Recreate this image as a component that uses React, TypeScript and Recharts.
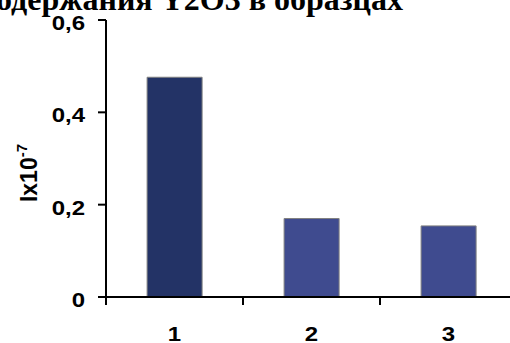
import React from 'react';
import { BarChart, Bar, XAxis, YAxis, Cell } from 'recharts';

const categories = ['1', '2', '3'];
const values = [0.476, 0.17, 0.154];
const barColors = ['#233366', '#3f4b8f', '#3f4b8f'];
const yTicks = [0, 0.2, 0.4, 0.6];
const titleText = 'содержания Y2O3 в образцах';
const yLabelMain = 'Ix10';
const yLabelSup = '-7';

const data = categories.map((c, i) => ({ name: c, value: values[i] }));

const CHART_W = 517;
const CHART_H = 343;
const MARGIN = { top: 20, right: 0, bottom: 0, left: 0 };
const Y_W = 106;
const FONT = 'Liberation Sans, Arial, sans-serif';

const band = (CHART_W - MARGIN.left - MARGIN.right - Y_W) / categories.length;

const XTick = (props: any) => {
  const { x, y, payload } = props;
  const bx = x - band / 2;
  return (
    <g>
      <line x1={bx} y1={y} x2={bx} y2={y + 8} stroke="#000" strokeWidth={2} />
      <text transform={`translate(${x},${y + 44}) scale(1.2,1)`} textAnchor="middle" fontFamily={FONT} fontWeight="bold" fontSize={20} fill="#000">
        {payload.value}
      </text>
    </g>
  );
};

const YTick = (props: any) => {
  const { x, y, payload } = props;
  return (
    <text transform={`translate(${x},${y + 10}) scale(1.2,1)`} textAnchor="end" fontFamily={FONT} fontWeight="bold" fontSize={20} fill="#000">
      {String(payload.value).replace('.', ',')}
    </text>
  );
};

const YLabel = (props: any) => {
  const cx = 37;
  const cy = 173;
  return (
    <text x={cx} y={cy} transform={`rotate(-90 ${cx} ${cy})`} textAnchor="middle" fontFamily={FONT} fontWeight="bold" fontSize={23} fill="#000">
      {yLabelMain}
      <tspan fontSize={15} dy={-10}>{yLabelSup}</tspan>
    </text>
  );
};

export default function App() {
  return (
    <div style={{ position: 'absolute', left: 0, top: 0, width: 510, height: 343, overflow: 'hidden', background: '#fff' }}>
      <BarChart width={CHART_W} height={CHART_H} data={data} margin={MARGIN} barCategoryGap="30%">
        <XAxis
          dataKey="name"
          height={46}
          tickSize={0}
          tickMargin={0}
          tickLine={false}
          axisLine={{ stroke: '#000', strokeWidth: 2 }}
          tick={<XTick />}
          interval={0}
        />
        <YAxis
          width={Y_W}
          domain={[0, 0.6]}
          ticks={yTicks}
          interval={0}
          tickSize={8}
          tickMargin={13}
          axisLine={{ stroke: '#000', strokeWidth: 2 }}
          tickLine={{ stroke: '#000', strokeWidth: 2 }}
          tick={<YTick />}
          label={<YLabel />}
        />
        <Bar dataKey="value" isAnimationActive={false} stroke="#808080" strokeWidth={1}>
          {data.map((d, i) => (
            <Cell key={d.name} fill={barColors[i]} />
          ))}
        </Bar>
      </BarChart>
      <svg width={510} height={30} style={{ position: 'absolute', left: 0, top: 0 }}>
        <text x={403} y={10} textAnchor="end" fontFamily="Liberation Serif, 'Times New Roman', serif" fontWeight="bold" fontSize={32} fill="#000">
          {titleText}
        </text>
      </svg>
    </div>
  );
}
